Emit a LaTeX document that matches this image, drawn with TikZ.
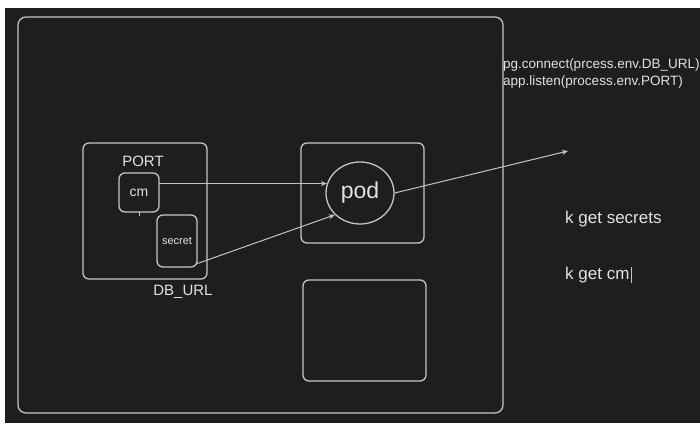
\documentclass[tikz,border=0pt]{standalone}
\usepackage{fontspec}
\setmainfont{Liberation Sans}
\usetikzlibrary{arrows.meta,shapes.geometric}
\definecolor{canvas}{HTML}{1E1E1E}
\definecolor{ink}{HTML}{C4C4C4}
\definecolor{txt}{HTML}{E2E2E2}
\newcommand\fsz[1]{\fontsize{#1}{#1}\selectfont}
\begin{document}
\begin{tikzpicture}[x=1pt,y=-1pt,
  box/.style={draw=ink, line width=1.3pt, rounded corners=6pt, inner sep=0pt,
              outer sep=0pt, anchor=north west, text=txt},
  label/.style={text=txt, inner sep=0pt},
  arr/.style={draw=ink, line width=1pt, -{Stealth[length=6pt,width=5pt]}}]
% page: white margin strip and dark canvas
\fill[white] (0,0) rectangle (700,423);
\fill[canvas] (5,8) rectangle (700,423);
\useasboundingbox (0,0) rectangle (700,423);

% cluster frame
\node[box, rounded corners=8pt, minimum width=485pt, minimum height=396pt] (cluster) at (18,17) {};

% config group with cm and secret
\node[box, minimum width=124pt, minimum height=136pt] (cfg) at (83,143) {};
\node[label, font=\fsz{15}] (port) at (143,161) {PORT};
\node[box, minimum width=40pt, minimum height=39pt, font=\fsz{14}] (cm) at (119,173) {cm};
\draw[ink, line width=1pt] (cm.south) -- ++(0,4);
\node[box, minimum width=40pt, minimum height=52pt, font=\fsz{11}] (secret) at (157,215) {secret};
\node[label, font=\fsz{15}] (dburl) at (183,292) {DB\_URL};

% pod frame
\node[box, minimum width=123pt, minimum height=100pt] (podbox) at (301,143) {};
\node[ellipse, draw=ink, line width=1.3pt, minimum width=68pt, minimum height=62pt,
      inner sep=0pt, text=txt, font=\fsz{23}] (pod) at (360,193) {pod};

% empty frame below
\node[box, minimum width=123pt, minimum height=101pt] (spare) at (303,280) {};

% connectors
\coordinate (farend) at (568,151);
\draw[arr] (cm.east |- pod.164) -- (pod.164);
\draw[arr] ([shift={(-1pt,3pt)}]secret.south east) -- (pod.221);
\draw[arr] (pod.east) -- (farend);

% notes
\node[label, anchor=west, font=\fsz{13.5}] (connect) at (503,65) {pg.connect(prcess.env.DB\_URL)};
\node[label, anchor=west, font=\fsz{13.5}] (listen) at (503,82) {app.listen(process.env.PORT)};
\node[label, anchor=west, font=\fsz{17}] (ksec) at (565,219) {k get secrets};
\node[label, anchor=west, font=\fsz{17}] (kcm) at (565,275) {k get cm};
\draw[ink, line width=0.8pt] ([xshift=1.5pt]kcm.north east) -- ([xshift=1.5pt]kcm.south east);
\end{tikzpicture}
\end{document}
